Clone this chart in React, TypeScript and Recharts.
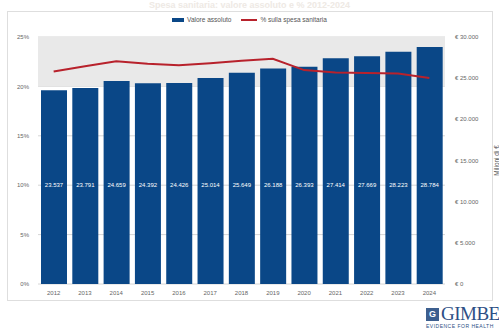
import {
  ComposedChart,
  Bar,
  Line,
  XAxis,
  YAxis,
  CartesianGrid,
  ReferenceArea,
  LabelList,
} from 'recharts';

const years = ['2012', '2013', '2014', '2015', '2016', '2017', '2018', '2019', '2020', '2021', '2022', '2023', '2024'];
const valoreAssoluto = [23537, 23791, 24659, 24392, 24426, 25014, 25649, 26188, 26393, 27414, 27669, 28223, 28784];
const percSpesa = [21.5, 22.05, 22.55, 22.3, 22.15, 22.35, 22.6, 22.8, 21.65, 21.4, 21.35, 21.3, 20.85];
const percTicks = [0, 5, 10, 15, 20, 25];
const euroTicks = [0, 5000, 10000, 15000, 20000, 25000, 30000];

const data = years.map((year, i) => ({
  year,
  valore: valoreAssoluto[i],
  perc: percSpesa[i],
}));

const FONT = '"Liberation Sans", Arial, sans-serif';
const BLUE = '#0a4787';
const RED = '#b8222c';

function formatThousands(value: number): string {
  return String(Math.round(value)).replace(/\B(?=(\d{3})+(?!\d))/g, '.');
}

function BarValueLabel(props: any) {
  const { x, y, width, height, value } = props;
  return (
    <text
      x={Number(x) + Number(width) / 2}
      y={Number(y) + Number(height) - 97}
      textAnchor="middle"
      fill="#ffffff"
      fontSize={6}
      fontFamily={FONT}
    >
      {formatThousands(Number(value))}
    </text>
  );
}

function EuroTick(props: any) {
  const { x, y, payload } = props;
  return (
    <text x={Number(x)} y={Number(y)} dy={2} textAnchor="start" fontSize={6} fill="#666" fontFamily={FONT}>
      {`€ ${formatThousands(Number(payload.value))}`}
    </text>
  );
}

export default function App() {
  return (
    <div style={{ position: 'relative', width: 499, height: 334, background: '#fff', overflow: 'hidden' }}>
      <style>{'body{margin:0}'}</style>
      <div
        style={{
          position: 'absolute',
          left: 7,
          top: 11,
          width: 486,
          height: 290,
          border: '1px solid #dedede',
          boxSizing: 'border-box',
        }}
      />
      <div
        style={{
          position: 'absolute',
          top: 0,
          left: 0,
          width: 499,
          textAlign: 'center',
          fontFamily: FONT,
          fontSize: 9,
          fontWeight: 'bold',
          color: '#eee9e4',
        }}
      >
        Spesa sanitaria: valore assoluto e % 2012-2024
      </div>
      <div
        style={{
          position: 'absolute',
          top: 16,
          left: 0,
          width: 499,
          display: 'flex',
          justifyContent: 'center',
          alignItems: 'center',
          fontFamily: FONT,
          fontSize: 6.5,
          color: '#555',
          gap: 10,
        }}
      >
        <span style={{ display: 'flex', alignItems: 'center', gap: 3 }}>
          <span style={{ width: 12, height: 4, background: BLUE, display: 'inline-block' }} />
          Valore assoluto
        </span>
        <span style={{ display: 'flex', alignItems: 'center', gap: 3 }}>
          <span style={{ width: 16, height: 2, background: RED, display: 'inline-block' }} />
          % sulla spesa sanitaria
        </span>
      </div>
      <div style={{ position: 'absolute', left: 0, top: 0 }}>
        <ComposedChart
          width={499}
          height={334}
          data={data}
          margin={{ top: 37, right: 0, bottom: 34, left: 0 }}
        >
          <ReferenceArea yAxisId="left" y1={20} y2={25} fill="#e9e9e9" fillOpacity={1} stroke="none" />
          <CartesianGrid yAxisId="left" vertical={false} stroke="#d6d6d6" />
          <XAxis
            dataKey="year"
            axisLine={false}
            tickLine={false}
            height={16}
            tickSize={0}
            tickMargin={7}
            tick={{ fontSize: 6, fill: '#666', fontFamily: FONT }}
            interval={0}
          />
          <YAxis
            yAxisId="left"
            orientation="left"
            width={38}
            domain={[0, 25]}
            ticks={percTicks}
            tickFormatter={(v: number) => `${v}%`}
            axisLine={false}
            tickLine={false}
            tickSize={0}
            tickMargin={9}
            tick={{ fontSize: 6, fill: '#666', fontFamily: FONT }}
          />
          <YAxis
            yAxisId="right"
            orientation="right"
            width={54}
            domain={[0, 30000]}
            ticks={euroTicks}
            axisLine={false}
            tickLine={false}
            tickSize={0}
            tickMargin={10}
            tick={EuroTick}
            label={{
              value: 'Milioni di €',
              angle: -90,
              position: 'insideRight',
              offset: 2,
              style: { fontSize: 6.5, fill: '#555', fontFamily: FONT, textAnchor: 'middle' },
            }}
          />
          <Bar yAxisId="right" dataKey="valore" fill={BLUE} barSize={26} isAnimationActive={false}>
            <LabelList dataKey="valore" content={BarValueLabel} />
          </Bar>
          <Line
            yAxisId="left"
            type="linear"
            dataKey="perc"
            stroke={RED}
            strokeWidth={2}
            dot={false}
            isAnimationActive={false}
          />
        </ComposedChart>
      </div>
      <div style={{ position: 'absolute', left: 426, top: 306, width: 80, fontFamily: '"Liberation Serif", serif' }}>
        <div style={{ display: 'flex', alignItems: 'center', gap: 2 }}>
          <span
            style={{
              width: 13,
              height: 13,
              background: '#3d5f8f',
              color: '#fff',
              fontSize: 9,
              lineHeight: '13px',
              textAlign: 'center',
              fontFamily: FONT,
              fontWeight: 'bold',
            }}
          >
            G
          </span>
          <span style={{ fontSize: 19, color: '#2d4f85', lineHeight: '16px', letterSpacing: -0.5 }}>GIMBE</span>
        </div>
        <div style={{ fontSize: 5, color: '#2d4f85', fontFamily: FONT, letterSpacing: 0.5, marginTop: 1 }}>
          EVIDENCE FOR HEALTH
        </div>
      </div>
    </div>
  );
}
